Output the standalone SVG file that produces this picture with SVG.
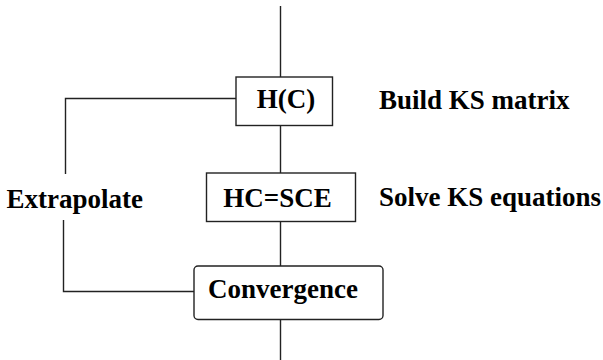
<svg xmlns="http://www.w3.org/2000/svg" width="603" height="360" viewBox="0 0 603 360">
<style>
.ln{fill:none;stroke:#222;stroke-width:1.4}
.bx{fill:#fff;stroke:#222;stroke-width:1.4}
.t{font-family:'Liberation Serif','Times New Roman',serif;font-weight:bold;font-size:27px;fill:#000}
</style>
<rect width="603" height="360" fill="#fff"/>
<g id="connectors">
<path class="ln" d="M280.5,6 V77"/>
<path class="ln" d="M280.5,125 V173"/>
<path class="ln" d="M280.5,221.5 V266"/>
<path class="ln" d="M280.5,319 V360"/>
<path class="ln" d="M236,98.5 H65.5 V174"/>
<path class="ln" d="M63.5,220 V291.5 H194"/>
</g>
<g id="hc">
<rect class="bx" x="236" y="77" width="96.5" height="48.5"/>
<text class="t" x="286" y="107.5" text-anchor="middle">H(C)</text>
</g>
<g id="solve">
<rect class="bx" x="206.5" y="173" width="149" height="48.5"/>
<text class="t" x="277.5" y="206.5" text-anchor="middle">HC=SCE</text>
</g>
<g id="convergence">
<rect class="bx" x="194" y="266" width="189" height="53.5" rx="4" ry="4"/>
<text class="t" x="208" y="297.5">Convergence</text>
</g>
<g id="labels">
<text class="t" x="379" y="108.5">Build KS matrix</text>
<text class="t" x="379" y="206">Solve KS equations</text>
<text class="t" x="6.5" y="207.5">Extrapolate</text>
</g>
</svg>
